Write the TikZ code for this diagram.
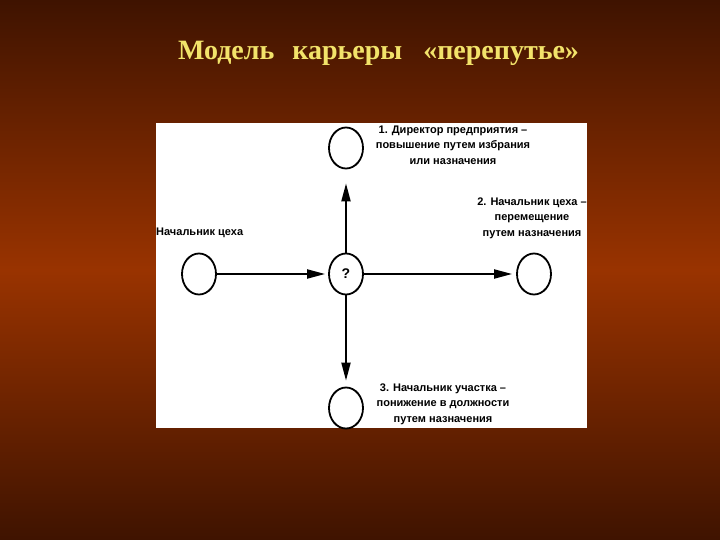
\documentclass[tikz,border=0pt]{standalone}
\usepackage{fontspec}
\setmainfont{Liberation Serif}
\newfontfamily\lab{Liberation Sans}
\usetikzlibrary{arrows.meta,shapes.geometric}
\definecolor{bgdark}{HTML}{3F1300}
\definecolor{bgmid}{HTML}{993300}
\definecolor{titley}{HTML}{F2E36A}
\tikzset{
  posnode/.style={ellipse,draw=black,line width=1.8pt,fill=white,minimum width=34pt,minimum height=41pt,inner sep=0pt,font=\lab\bfseries\fontsize{14}{14}\selectfont},
  lbl/.style={align=center,font=\lab\bfseries\fontsize{11}{15.5}\selectfont,inner sep=0pt,text=black},
  conn/.style={line width=2pt,-{Triangle[length=18pt,width=9pt]}},
}
\begin{document}
\begin{tikzpicture}[x=1pt,y=-1pt]
\shade[top color=bgdark,bottom color=bgdark,middle color=bgmid] (0,0) rectangle (720,540);
\useasboundingbox (0,0) rectangle (720,540);
\node[font=\bfseries\fontsize{28}{30}\selectfont,text=titley,inner sep=0pt,anchor=base] (title) at (378.5,60) {Модель\hspace{18pt}карьеры\hspace{21pt}«перепутье»};
\fill[white] (156,123) rectangle (587,428);
\node[posnode] (c) at (346,274) {?};
\node[posnode] (l) at (199,274) {};
\node[posnode] (r) at (534,274) {};
\node[posnode] (t) at (346,148) {};
\node[posnode] (b) at (346,408) {};
\draw[conn] (l) -- ([xshift=-3pt]c.west);
\draw[conn] (c) -- ([xshift=-4pt]r.west);
\draw[conn] (c) -- ([yshift=-14pt]t.south);
\draw[conn] (c) -- ([yshift=6pt]b.north);
\node[lbl] (t1) at (453,145) {1. Директор предприятия –\\повышение путем избрания\\или назначения};
\node[lbl] (t2) at (532,218) {2. Начальник цеха –\\перемещение\\путем назначения};
\node[lbl] (t3) at (443,404) {3. Начальник участка –\\понижение в должности\\путем назначения};
\node[lbl,anchor=west] (t0) at (156,233) {Начальник цеха};
\end{tikzpicture}
\end{document}
